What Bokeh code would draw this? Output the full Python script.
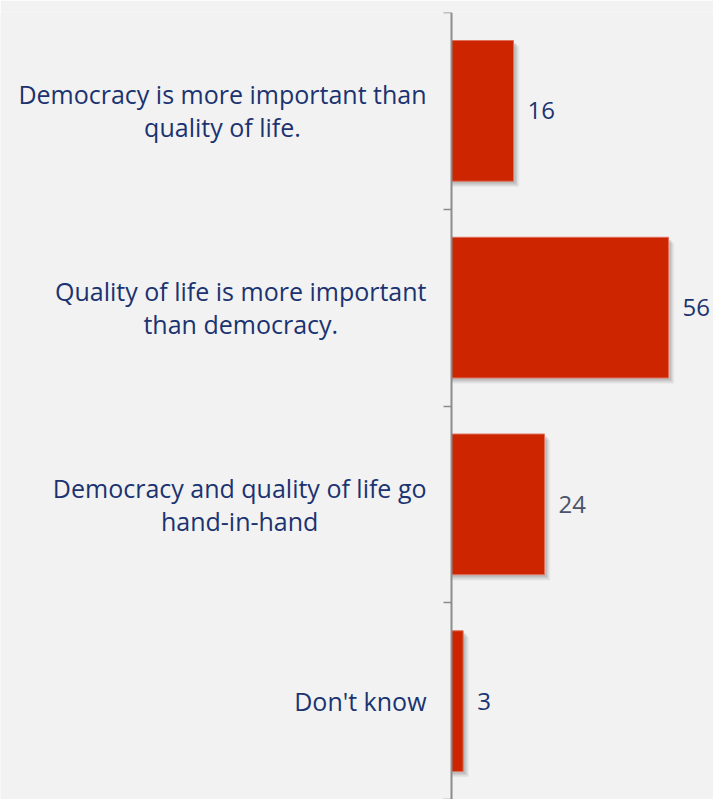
import os, glob, struct, subprocess
from bokeh.plotting import figure
from bokeh.models import ColumnDataSource, FixedTicker
from bokeh.transform import dodge
from bokeh.core.properties import value
from bokeh.embed import file_html
from bokeh.resources import INLINE

categories = [
    "Democracy is more important than\nquality of life.",
    "Quality of life is more important\nthan democracy.",
    "Democracy and quality of life go\nhand-in-hand",
    "Don't know",
]
values = [16, 56, 24, 3]
value_label_colors = ["#1b3370", "#1b3370", "#4a5468", "#1b3370"]

BG = "#f2f2f2"
BAR = "#cc2500"
NAVY = "#1b3370"
FONT = "Open Sans"
LABEL_PX = 25
VALUE_PX = 24
STANDOFF = 25
WIDTH, HEIGHT = 713, 799
AXIS_PX = 451          # where the value axis sits on the page
PX_PER_UNIT = 3.875    # horizontal scale


# ---- font metrics (to centre multi-line category labels like the original) ----
def _font_file(family):
    try:
        f = subprocess.run(["fc-match", "-f", "%{file}", family], capture_output=True,
                           text=True, timeout=5).stdout.strip()
        if f and os.path.exists(f):
            return f
    except Exception:
        pass
    key = family.replace(" ", "").lower()
    files = []
    for d in ["/usr/share/fonts", "/usr/local/share/fonts",
              os.path.expanduser("~/.fonts"), os.path.expanduser("~/.local/share/fonts")]:
        files += glob.glob(os.path.join(d, "**", "*"), recursive=True)
    files = [f for f in files if f.lower().endswith((".ttf", ".otf"))
             and key in os.path.basename(f).replace(" ", "").lower()]
    bad = ("italic", "bold", "condensed", "light", "semi", "medium", "extra", "black", "thin")
    files.sort(key=lambda f: (sum(b in os.path.basename(f).lower() for b in bad), len(f)))
    return files[0] if files else None


def _metrics(path):
    data = open(path, "rb").read()
    base = 0
    if data[:4] == b"ttcf":
        base = struct.unpack(">I", data[12:16])[0]
    nt = struct.unpack(">H", data[base + 4:base + 6])[0]
    tables = {}
    for i in range(nt):
        tag, _, off, ln = struct.unpack(">4sIII", data[base + 12 + 16 * i:base + 28 + 16 * i])
        tables[tag.decode("latin-1")] = off
    upm = struct.unpack(">H", data[tables["head"] + 18:tables["head"] + 20])[0]
    nhm = struct.unpack(">H", data[tables["hhea"] + 34:tables["hhea"] + 36])[0]
    hm = tables["hmtx"]
    adv = [struct.unpack(">H", data[hm + 4 * i:hm + 4 * i + 2])[0] for i in range(nhm)]
    cm = tables["cmap"]
    nsub = struct.unpack(">H", data[cm + 2:cm + 4])[0]
    sub = None
    for i in range(nsub):
        pid, eid, off = struct.unpack(">HHI", data[cm + 4 + 8 * i:cm + 12 + 8 * i])
        fmt = struct.unpack(">H", data[cm + off:cm + off + 2])[0]
        if fmt == 4 and (pid == 0 or (pid == 3 and eid == 1)):
            sub = cm + off
            break
    segx2 = struct.unpack(">H", data[sub + 6:sub + 8])[0]
    seg = segx2 // 2
    ends = struct.unpack(">%dH" % seg, data[sub + 14:sub + 14 + segx2])
    starts = struct.unpack(">%dH" % seg, data[sub + 16 + segx2:sub + 16 + 2 * segx2])
    deltas = struct.unpack(">%dh" % seg, data[sub + 16 + 2 * segx2:sub + 16 + 3 * segx2])
    rpos = sub + 16 + 3 * segx2
    roffs = struct.unpack(">%dH" % seg, data[rpos:rpos + segx2])

    def gid(c):
        for i in range(seg):
            if starts[i] <= c <= ends[i]:
                if roffs[i] == 0:
                    return (c + deltas[i]) & 0xFFFF
                a = rpos + 2 * i + roffs[i] + 2 * (c - starts[i])
                g = struct.unpack(">H", data[a:a + 2])[0]
                return (g + deltas[i]) & 0xFFFF if g else 0
        return 0

    def width(s, size):
        return sum(adv[min(gid(ord(ch)), nhm - 1)] for ch in s) * size / upm
    return width


try:
    text_width = _metrics(_font_file(FONT))
except Exception:
    def text_width(s, size):
        return 0.56 * size * len(s)


def block_width(label):
    return max(text_width(line, LABEL_PX) for line in label.split("\n"))


n = len(categories)
centers = [n - 0.5 - i for i in range(n)]
boundaries = [float(b) for b in range(n + 1)]
label_offsets = [-(STANDOFF + block_width(c) / 2.0) for c in categories]

src = ColumnDataSource(dict(y=centers, x=values, cat=categories, zero=[0] * n,
                            off=label_offsets,
                            lbl=[str(v) for v in values], col=value_label_colors))

p = figure(width=WIDTH, height=HEIGHT,
           x_range=(-AXIS_PX / PX_PER_UNIT, (WIDTH - AXIS_PX) / PX_PER_UNIT),
           y_range=(0, n),
           output_backend="svg", toolbar_location=None,
           min_border_left=0, min_border_right=0, min_border_top=12, min_border_bottom=0)
p.background_fill_color = BG
p.border_fill_color = BG
p.outline_line_color = None
p.grid.visible = False
p.xaxis.visible = False

# soft drop shadow layers
for dx, dy, a in [(1.5, -0.03, 0.06), (1.2, -0.024, 0.08), (0.9, -0.018, 0.11), (0.6, -0.012, 0.14)]:
    p.hbar(y=dodge("y", dy), left=0, right=dodge("x", dx), height=0.715, source=src,
           fill_color="#5a5a5a", fill_alpha=a, line_color=None)

p.hbar(y="y", left=0, right="x", height=0.715, source=src,
       fill_color=BAR, line_color="#e0705a", line_width=1)

p.text(x="x", y="y", text="lbl", source=src, x_offset=14, text_align="left",
       text_baseline="middle", text_color="col", text_font=value(FONT),
       text_font_size="%dpx" % VALUE_PX)

p.text(x="zero", y="y", text="cat", source=src, x_offset="off",
       text_align="center", text_baseline="middle", text_color=NAVY,
       text_font=value(FONT), text_font_size="%dpx" % LABEL_PX,
       text_line_height=0.97)

ax = p.yaxis[0]
ax.fixed_location = 0
ax.ticker = FixedTicker(ticks=[], minor_ticks=boundaries)
ax.major_tick_in = 0
ax.major_tick_out = 0
ax.minor_tick_in = 0
ax.minor_tick_out = 8
ax.minor_tick_line_color = "#8c8c8c"
ax.minor_tick_line_width = 1.5
ax.axis_line_color = "#8c8c8c"
ax.axis_line_width = 2

html = file_html(p, INLINE)
html = html.replace("<body>", '<body style="background:#f2f2f2">', 1)
open("out.html", "w").write(html)
